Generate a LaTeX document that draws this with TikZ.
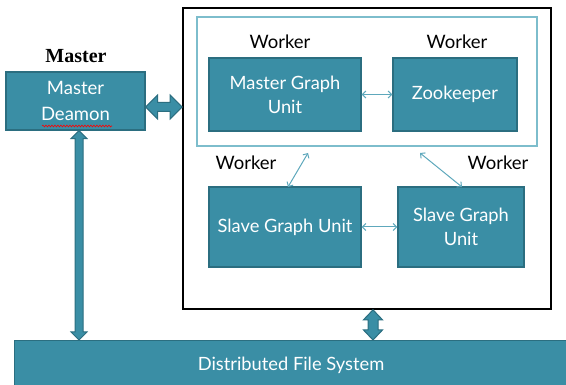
\documentclass[tikz,border=0pt]{standalone}
\usepackage{fontspec}
\setmainfont{Lato}
\newfontfamily\headserif{Liberation Serif}
\usetikzlibrary{arrows.meta,calc,decorations.pathmorphing}

\definecolor{unitfill}{HTML}{3A8EA5}
\definecolor{unitedge}{HTML}{2B6E80}
\definecolor{frameedge}{HTML}{7DBDCC}
\definecolor{linkcol}{HTML}{5EA8BC}

\tikzset{
  unit/.style={draw=unitedge, line width=1.4pt, fill=unitfill, text=white,
    align=center, inner sep=1pt, font=\fontsize{18.3}{24}\selectfont},
  workerlabel/.style={font=\fontsize{18.5}{20}\selectfont, text=black},
  link/.style={draw=linkcol, line width=1pt,
    {Straight Barb[length=3.5pt,width=7pt]}-{Straight Barb[length=3.5pt,width=7pt]}},
  fatarrow/.style={fill=unitfill, draw=unitedge, line width=1pt, line join=miter},
}

% thick double-headed arrows: start, end, half shaft, half head, head length
\newcommand\hfatarrow[5]{\filldraw[fatarrow] let \p1=(#1), \p2=(#2) in
  (\x1,\y1) -- ++(#5,#4) -- ++(0,#3-#4) -- (\x2-#5,\y1+#3) -- ++(0,#4-#3)
  -- (\x2,\y1) -- ++(-#5,-#4) -- ++(0,#4-#3) -- (\x1+#5,\y1-#3) -- ++(0,#3-#4) -- cycle;}
\newcommand\vfatarrow[5]{\filldraw[fatarrow] let \p1=(#1), \p2=(#2) in
  (\x1,\y1) -- ++(#4,-#5) -- ++(#3-#4,0) -- (\x1+#3,\y2+#5) -- ++(#4-#3,0)
  -- (\x1,\y2) -- ++(-#4,#5) -- ++(#4-#3,0) -- (\x1-#3,\y1-#5) -- ++(#3-#4,0) -- cycle;}

\begin{document}
\begin{tikzpicture}[x=1pt,y=-1pt]
\useasboundingbox (0,0) rectangle (566,385);
\clip (0,0) rectangle (566,385);

% worker cluster
\node[draw=black, line width=1.6pt, minimum width=368pt, minimum height=301pt, inner sep=0pt]
  (big) at (367,158.5) {};
\node[draw=frameedge, line width=1.2pt, minimum width=340pt, minimum height=129pt, inner sep=0pt]
  (frame) at (367,81.5) {};

\node[unit, minimum width=152pt, minimum height=73pt] (mgu) at (285,94.5) {Master Graph\\Unit};
\node[unit, minimum width=124pt, minimum height=73pt] (zk) at (455,94.5) {Zookeeper};
\node[unit, minimum width=152pt, minimum height=80pt] (sgl) at (285,227) {Slave Graph Unit};
\node[unit, minimum width=126pt, minimum height=80pt] (sgr) at (461,227) {Slave Graph\\Unit};

\node[workerlabel] (w1) at (280,42) {Worker};
\node[workerlabel] (w2) at (457,42) {Worker};
\node[workerlabel] (w3) at (246,163) {Worker};
\node[workerlabel] (w4) at (498,163) {Worker};

% master side
\node[font=\headserif\bfseries\fontsize{20}{22}\selectfont] (mlabel) at (76,56) {Master};
\node[unit, minimum width=139pt, minimum height=58pt, font=\fontsize{18.5}{26}\selectfont]
  (md) at (75.5,101) {Master\\Deamon};
\draw[red, line width=0.6pt, decorate,
  decoration={snake, amplitude=0.9pt, segment length=3pt}] (42,126) -- (112,126);

% storage
\node[unit, minimum width=570pt, minimum height=60pt, anchor=north west] (dfs) at (14,340) {};
\node[text=white, font=\fontsize{18.3}{20}\selectfont] (dfslabel) at (291,365) {Distributed File System};

% links inside the cluster
\draw[link] (mgu.east) -- (zk.west);
\draw[link] (sgl.east) -- (sgr.west);
\coordinate (d1a) at (308,153);
\coordinate (d1b) at (288,187);
\coordinate (d2a) at (420,153);
\coordinate (d2b) at (462,187);
\draw[link] (d1a) -- (d1b);
\draw[link] (d2a) -- (d2b);

% heavy links
\path (md.east) ++(0,6) coordinate (mdside);
\path (md.south) ++(3.5,0) coordinate (mdfoot);
\path (big.south) ++(6,0) coordinate (bigfoot);
\hfatarrow{mdside}{big.west |- mdside}{4.5pt}{12pt}{12pt}
\vfatarrow{mdfoot}{mdfoot |- dfs.north}{4pt}{8pt}{8pt}
\vfatarrow{bigfoot}{bigfoot |- dfs.north}{5pt}{9.5pt}{10pt}
\end{tikzpicture}
\end{document}
